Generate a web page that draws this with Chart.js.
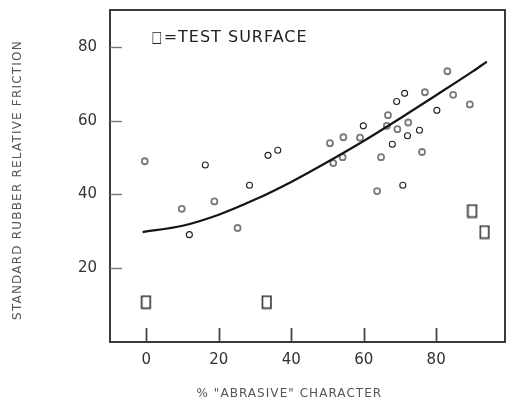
<!DOCTYPE html>
<html>
<head>
<meta charset="utf-8">
<script src="https://cdn.jsdelivr.net/npm/chart.js@4.4.1/dist/chart.umd.min.js"></script>
<style>
  html, body { margin: 0; padding: 0; background: #fff; }
  #wrap { width: 508px; height: 401px; }
</style>
</head>
<body>
<div id="wrap"><canvas id="c" width="508" height="401"></canvas></div>
<script>
// ---- data ----
const xTickValues = [0, 20, 40, 60, 80];
const yTickValues = [20, 40, 60, 80];

// thin dark open circles
const darkCircles = [
  {x: 16.3, y: 48.0}, {x: 33.6, y: 50.6}, {x: 36.3, y: 52.0}, {x: 28.5, y: 42.5},
  {x: 11.9, y: 29.1}, {x: 67.9, y: 53.6}, {x: 70.8, y: 42.5}, {x: 71.3, y: 67.4},
  {x: 69.1, y: 65.2}, {x: 80.2, y: 62.8}, {x: 59.9, y: 58.6}, {x: 72.1, y: 55.9},
  {x: 75.4, y: 57.4}
];
// thicker grey circles
const greyCircles = [
  {x: -0.4, y: 49.0}, {x: 18.8, y: 38.1}, {x: 9.8, y: 36.1}, {x: 25.2, y: 30.9},
  {x: 51.6, y: 48.5}, {x: 54.2, y: 50.1}, {x: 64.8, y: 50.1}, {x: 76.1, y: 51.5},
  {x: 63.7, y: 40.9}, {x: 50.7, y: 53.9}, {x: 83.1, y: 73.4}, {x: 84.7, y: 67.0},
  {x: 76.9, y: 67.7}, {x: 66.7, y: 61.5}, {x: 66.4, y: 58.6}, {x: 69.3, y: 57.7},
  {x: 72.3, y: 59.5}, {x: 59.0, y: 55.4}, {x: 54.4, y: 55.5}, {x: 89.3, y: 64.4}
];
// test surfaces (squares)
const testSurfaces = [
  {x: 0, y: 10.8}, {x: 33.3, y: 10.8}, {x: 90.0, y: 35.5}, {x: 93.4, y: 29.8}
];
// fitted curve
const curveX = [-1, 10, 20, 30, 40, 50, 60, 70, 80, 90, 94];
const curveY = [29.8, 31.5, 34.5, 38.6, 43.4, 48.8, 54.5, 60.6, 66.9, 73.3, 76.0];

const xTitle = '% "ABRASIVE" CHARACTER';
const yTitle = 'STANDARD RUBBER RELATIVE FRICTION';
const legendSymbol = '\u25A1';
const legendText = '=TEST SURFACE';

// ---- marker for test surfaces: tall open rectangle ----
const sq = document.createElement('canvas');
sq.width = 12; sq.height = 15;
(function () {
  const g = sq.getContext('2d');
  g.strokeStyle = '#333';
  g.lineWidth = 1.6;
  g.strokeRect(1.5, 1.5, 8.5, 12);
})();

const framePlugin = {
  id: 'frame',
  afterDraw(chart) {
    const ctx = chart.ctx, a = chart.chartArea;
    const xs = chart.scales.x, ys = chart.scales.y;
    ctx.save();
    // frame
    ctx.strokeStyle = '#3a3a3a';
    ctx.lineWidth = 2;
    ctx.strokeRect(a.left, a.top, a.right - a.left, a.bottom - a.top);
    // inward ticks
    ctx.lineWidth = 1.8;
    ctx.strokeStyle = '#444';
    xs.ticks.forEach(t => {
      const px = Math.round(xs.getPixelForValue(t.value)) + 0.5;
      ctx.beginPath(); ctx.moveTo(px, a.bottom); ctx.lineTo(px, a.bottom - 14); ctx.stroke();
    });
    ctx.strokeStyle = '#777';
    ctx.lineWidth = 1.4;
    ys.ticks.forEach(t => {
      const py = Math.round(ys.getPixelForValue(t.value)) + 0.5;
      ctx.beginPath(); ctx.moveTo(a.left, py); ctx.lineTo(a.left + 12, py); ctx.stroke();
    });
    // legend: symbol (narrowed to a tall rectangle) + text
    const lx = xs.getPixelForValue(1.5), ly = ys.getPixelForValue(80) - 9;
    ctx.fillStyle = '#222';
    ctx.textBaseline = 'middle';
    ctx.textAlign = 'left';
    ctx.font = '16px "DejaVu Sans"';
    ctx.save();
    ctx.translate(lx, ly);
    ctx.scale(0.68, 1.0);
    ctx.fillText(legendSymbol, 0, 0);
    ctx.restore();
    ctx.font = '16px "DejaVu Sans"';
    ctx.letterSpacing = '1px';
    ctx.fillText(legendText, lx + 12, ly);
    // axis titles
    ctx.fillStyle = '#555';
    ctx.font = '12px "DejaVu Sans"';
    ctx.letterSpacing = '1.05px';
    ctx.textAlign = 'center';
    ctx.fillText(xTitle, xs.getPixelForValue(39.5), 394);
    ctx.letterSpacing = '1.2px';
    ctx.translate(18, (a.top + a.bottom) / 2 + 4);
    ctx.rotate(-Math.PI / 2);
    ctx.fillText(yTitle, 0, 0);
    ctx.restore();
  }
};

function noPad(s) {
  s.paddingTop = 0; s.paddingBottom = 0; s.paddingLeft = 0; s.paddingRight = 0;
}

new Chart(document.getElementById('c'), {
  type: 'scatter',
  data: {
    datasets: [
      {
        type: 'line',
        data: curveX.map((x, i) => ({x, y: curveY[i]})),
        borderColor: '#151515',
        borderWidth: 2.2,
        pointRadius: 0,
        cubicInterpolationMode: 'monotone',
        fill: false
      },
      {
        data: greyCircles,
        pointRadius: 3,
        pointBorderWidth: 1.8,
        pointBorderColor: '#7a7a7a',
        pointBackgroundColor: 'rgba(255,255,255,0)'
      },
      {
        data: darkCircles,
        pointRadius: 3,
        pointBorderWidth: 1.1,
        pointBorderColor: '#222',
        pointBackgroundColor: 'rgba(255,255,255,0)'
      },
      {
        data: testSurfaces,
        pointStyle: sq,
        pointRadius: 6
      }
    ]
  },
  options: {
    responsive: false,
    animation: false,
    events: [],
    layout: { autoPadding: false, padding: { top: 10, right: 3, left: 0, bottom: 0 } },
    plugins: { legend: { display: false }, tooltip: { enabled: false } },
    scales: {
      x: {
        type: 'linear',
        min: -10, max: 99,
        afterBuildTicks: s => { s.ticks = xTickValues.map(v => ({value: v})); },
        afterFit: s => { s.height = 59; noPad(s); },
        grid: { display: false, drawTicks: false },
        border: { display: false },
        ticks: { padding: 9, color: '#333', font: { family: 'DejaVu Sans', size: 15 } }
      },
      y: {
        type: 'linear',
        min: 0, max: 90,
        afterBuildTicks: s => { s.ticks = yTickValues.map(v => ({value: v})); },
        afterFit: s => { s.width = 110; noPad(s); },
        grid: { display: false, drawTicks: false },
        border: { display: false },
        ticks: { padding: 13, color: '#333', font: { family: 'DejaVu Sans', size: 15 } }
      }
    }
  },
  plugins: [framePlugin]
});
</script>
</body>
</html>
